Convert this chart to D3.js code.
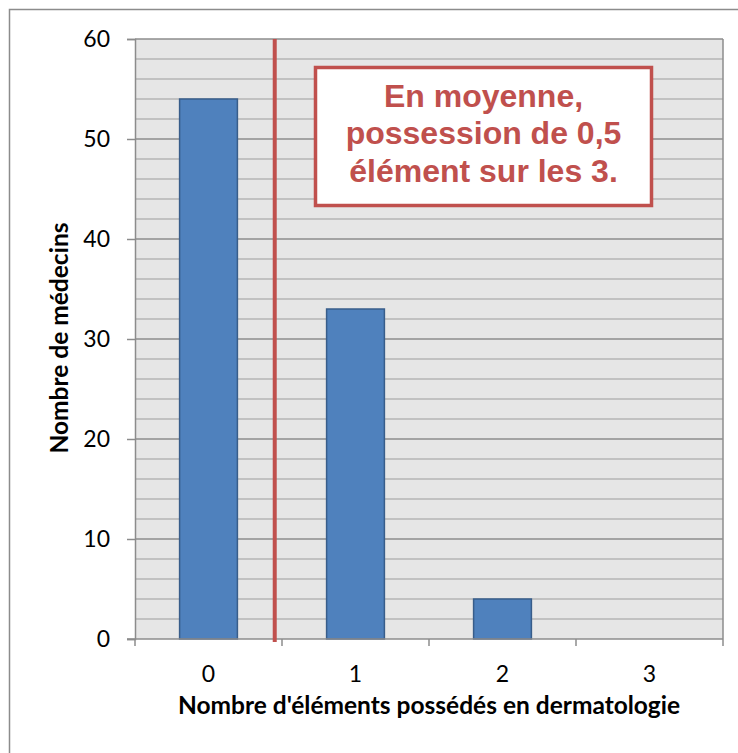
<!DOCTYPE html>
<html>
<head>
<meta charset="utf-8">
<script src="https://cdn.jsdelivr.net/npm/d3@7"></script>
<style>
  html, body { margin: 0; padding: 0; background: #fff; }
  svg { display: block; }
</style>
</head>
<body>
<svg id="chart" width="738" height="753"></svg>
<script>
// Number of dermatology items owned, and how many doctors own that many
const categories = ["0", "1", "2", "3"];
const doctorCounts = [54, 33, 4, 0];
const yTicks = [0, 10, 20, 30, 40, 50, 60];
const yMinorTicks = d3.range(0, 61, 2);
const noteLines = ["En moyenne,", "possession de 0,5", "élément sur les 3."];
const yTitle = "Nombre de médecins";
const xTitle = "Nombre d'éléments possédés en dermatologie";

// Mean number of items per doctor
const total = d3.sum(doctorCounts);
const meanItems = d3.sum(doctorCounts, (d, i) => d * i) / total;

const svg = d3.select("#chart");
const margin = { left: 135, top: 39, right: 738 - 723, bottom: 753 - 639 };
const W = 738 - margin.left - margin.right;
const H = 753 - margin.top - margin.bottom;
const labelFont = "Lato, 'Open Sans', sans-serif";

// Outer chart frame
svg.append("rect")
  .attr("x", 9.5).attr("y", 9.5)
  .attr("width", 760).attr("height", 780)
  .attr("fill", "#fff").attr("stroke", "#8c8c8c").attr("stroke-width", 1.5);

const g = svg.append("g").attr("transform", `translate(${margin.left},${margin.top})`);

const x = d3.scaleBand().domain(categories).range([0, W]).paddingInner(0.6).paddingOuter(0.3);
const xLin = d3.scaleLinear().domain([-0.5, categories.length - 0.5]).range([0, W]);
const y = d3.scaleLinear().domain([0, 60]).range([H, 0]);

// Plot background
g.append("rect").attr("width", W).attr("height", H).attr("fill", "#e6e6e6");

// Minor gridlines
g.append("g").selectAll("line")
  .data(yMinorTicks.filter(v => v % 10 !== 0))
  .join("line")
  .attr("x1", 0).attr("x2", W)
  .attr("y1", d => y(d)).attr("y2", d => y(d))
  .attr("stroke", "#b4b4b4").attr("stroke-width", 1.5);

// Major gridlines
g.append("g").selectAll("line")
  .data(yTicks.filter(v => v > 0))
  .join("line")
  .attr("x1", 0).attr("x2", W)
  .attr("y1", d => y(d)).attr("y2", d => y(d))
  .attr("stroke", "#8c8c8c").attr("stroke-width", 1.5);

// Right border of plot area
g.append("line").attr("x1", W).attr("x2", W).attr("y1", 0).attr("y2", H)
  .attr("stroke", "#8c8c8c").attr("stroke-width", 1.5);

// Bars
g.append("g").selectAll("rect")
  .data(doctorCounts)
  .join("rect")
  .attr("x", (d, i) => x(categories[i]) + 0.5)
  .attr("y", d => y(d))
  .attr("width", x.bandwidth() - 1)
  .attr("height", d => H - y(d))
  .attr("fill", "#4f81bd")
  .attr("stroke", d => d > 0 ? "#385d8a" : "none")
  .attr("stroke-width", 1.5);

// Y axis
const yAxis = g.append("g")
  .call(d3.axisLeft(y).tickValues(yTicks).tickSize(8).tickPadding(17).tickFormat(d3.format("d")));
yAxis.select(".domain").attr("stroke", "#8c8c8c").attr("stroke-width", 1.5);
yAxis.selectAll(".tick line").attr("stroke", "#8c8c8c").attr("stroke-width", 1.5);
yAxis.selectAll("text")
  .attr("font-family", labelFont)
  .attr("font-size", 23).attr("fill", "#000");

// X axis with ticks on category boundaries
const xAxisG = g.append("g").attr("transform", `translate(0,${H})`);
xAxisG.append("line").attr("x1", -8).attr("x2", W).attr("y1", 0).attr("y2", 0)
  .attr("stroke", "#8c8c8c").attr("stroke-width", 1.5);
xAxisG.selectAll(".bt")
  .data(d3.range(categories.length + 1))
  .join("line")
  .attr("class", "bt")
  .attr("x1", d => xLin(d - 0.5)).attr("x2", d => xLin(d - 0.5))
  .attr("y1", 0).attr("y2", 7)
  .attr("stroke", "#8c8c8c").attr("stroke-width", 1.5);
xAxisG.selectAll(".lbl")
  .data(categories)
  .join("text")
  .attr("class", "lbl")
  .attr("x", d => x(d) + x.bandwidth() / 2)
  .attr("y", 43)
  .attr("text-anchor", "middle")
  .attr("font-family", labelFont)
  .attr("font-size", 23).attr("fill", "#000")
  .text(d => d);

// Mean marker
g.append("line")
  .attr("x1", xLin(meanItems)).attr("x2", xLin(meanItems))
  .attr("y1", 0).attr("y2", H + 3)
  .attr("stroke", "#c0504d").attr("stroke-width", 4);

// Annotation box
const box = { x: 314 - margin.left, y: 66 - margin.top, w: 339, h: 141 };
g.append("rect")
  .attr("x", box.x + 1.5).attr("y", box.y + 1.5)
  .attr("width", box.w - 3).attr("height", box.h - 3)
  .attr("fill", "#fff").attr("stroke", "#c0504d").attr("stroke-width", 3.5);
g.append("g").selectAll("text")
  .data(noteLines)
  .join("text")
  .attr("x", box.x + box.w / 2)
  .attr("y", (d, i) => 107 - margin.top + i * 37.3)
  .attr("text-anchor", "middle")
  .attr("font-family", "'Liberation Sans', Arial, sans-serif")
  .attr("font-weight", "bold")
  .attr("font-size", 32)
  .attr("fill", "#c0504d")
  .text(d => d);

// Axis titles
svg.append("text")
  .attr("transform", "translate(68,338) rotate(-90)")
  .attr("text-anchor", "middle")
  .attr("font-family", labelFont)
  .attr("font-weight", "bold").attr("font-size", 24.5).attr("fill", "#000")
  .text(yTitle);
svg.append("text")
  .attr("x", 429).attr("y", 714)
  .attr("text-anchor", "middle")
  .attr("font-family", labelFont)
  .attr("font-weight", "bold").attr("font-size", 24.5).attr("fill", "#000")
  .text(xTitle);
</script>
</body>
</html>
